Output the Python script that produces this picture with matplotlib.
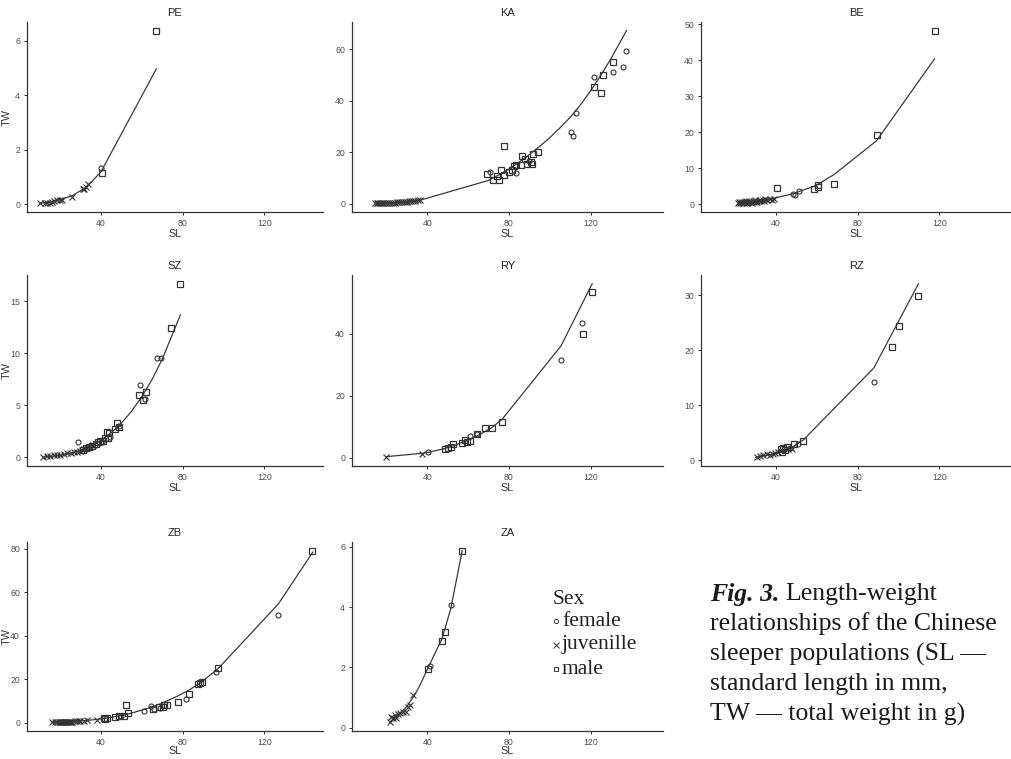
import matplotlib.pyplot as plt
from matplotlib.lines import Line2D

plt.rcParams['font.family'] = ['Liberation Sans', 'DejaVu Sans']

# ---- data (SL in mm, TW in g) ----
pe_f_sl = [40.0]
pe_f_tw = [1.34]
pe_j_sl = [10.0, 12.5, 13.5, 15.2, 16.0, 16.8, 18.4, 19.8, 20.9, 25.8, 31.0, 31.5, 32.5, 33.5]
pe_j_tw = [0.05, 0.06, 0.07, 0.07, 0.09, 0.11, 0.15, 0.17, 0.17, 0.27, 0.55, 0.58, 0.64, 0.76]
pe_m_sl = [40.5, 67.1]
pe_m_tw = [1.17, 6.37]
pe_fit_sl = [10, 15, 20, 25.8, 31.5, 35, 40, 67.1]
pe_fit_tw = [0.04, 0.09, 0.18, 0.32, 0.57, 0.8, 1.2, 4.97]

ka_f_sl = [70.5, 83.4, 90.0, 110.4, 111.5, 113.1, 121.8, 130.8, 136.0, 137.3]
ka_f_tw = [12.1, 11.9, 16.4, 28.0, 26.3, 35.1, 49.3, 51.2, 53.2, 59.2]
ka_j_sl = [14.5, 15.5, 16.0, 17.0, 17.8, 18.5, 19.5, 20.3, 21.0, 22.0, 23.0, 24.0,
           25.0, 26.0, 27.0, 28.0, 29.0, 30.0, 31.0, 32.0, 33.0, 34.0, 35.5, 36.5]
ka_j_tw = [0.08, 0.1, 0.11, 0.13, 0.16, 0.17, 0.21, 0.24, 0.26, 0.3, 0.34, 0.38,
           0.43, 0.48, 0.54, 0.6, 0.67, 0.74, 0.82, 0.9, 0.99, 1.08, 1.25, 1.4]
ka_m_sl = [69.4, 72.0, 74.0, 75.1, 75.9, 77.6, 77.4, 80.0, 81.6, 82.4, 83.3, 85.9,
           86.5, 87.8, 88.7, 90.6, 91.4, 91.6, 94.2, 121.8, 124.9, 126.2, 131.1]
ka_m_tw = [11.6, 9.3, 10.6, 9.3, 12.9, 11.2, 22.2, 12.3, 13.2, 14.5, 15.1, 14.8,
           18.6, 17.3, 15.5, 16.1, 15.2, 19.4, 20.0, 45.2, 43.1, 49.9, 55.1]
ka_fit_sl = [14.5, 20, 25, 30, 36.5, 70, 75, 80, 85, 90, 95, 100, 105, 110, 115, 120, 125, 130, 137.6]
ka_fit_tw = [0.08, 0.22, 0.42, 0.73, 1.31, 9.0, 11.1, 13.4, 16.1, 19.0, 22.2, 25.6,
             29.4, 33.5, 38.3, 43.8, 49.8, 56.3, 67.2]

be_f_sl = [48.6, 49.4, 51.5]
be_f_tw = [2.8, 2.6, 3.5]
be_j_sl = [21.5, 22, 22.5, 23, 23.5, 24, 24.5, 25, 25.5, 26, 26.5, 27, 27.5, 28, 28.5,
           29, 29.5, 30, 30.5, 31, 32, 32.5, 33, 34, 34.5, 35, 36, 37, 38, 39]
be_j_tw = [0.3, 0.5, 0.2, 0.6, 0.4, 0.7, 0.3, 0.5, 0.8, 0.4, 0.6, 0.9, 0.5, 0.7, 0.4,
           0.8, 0.6, 1.0, 0.7, 0.5, 0.9, 1.1, 0.8, 1.2, 0.9, 1.3, 1.1, 1.4, 1.2, 1.5]
be_m_sl = [40.5, 58.5, 60.7, 60.7, 68.5, 89.3, 117.7]
be_m_tw = [4.4, 4.3, 5.4, 4.8, 5.7, 19.3, 48.2]
be_fit_sl = [21.5, 25, 30, 35, 39, 40.5, 48.6, 51.5, 58.5, 60.7, 68.5, 89.3, 117.7]
be_fit_tw = [0.45, 0.6, 0.9, 1.3, 1.6, 1.8, 2.9, 3.5, 4.9, 5.5, 8.2, 17.6, 40.4]

sz_f_sl = [28.6, 33.0, 37.0, 40.5, 44.5, 48.7, 59.3, 61.7, 67.4, 69.6]
sz_f_tw = [1.44, 0.85, 1.2, 1.5, 2.0, 3.0, 7.0, 5.64, 9.55, 9.55]
sz_j_sl = [11.6, 13.6, 15.2, 16.8, 18.4, 20.0, 21.7, 23.3, 25.3, 26.6, 28.0, 29.5,
           30.5, 31.5, 33.0, 34.5, 36.0]
sz_j_tw = [0.0, 0.08, 0.12, 0.18, 0.22, 0.27, 0.32, 0.38, 0.45, 0.5, 0.55, 0.65,
           0.7, 0.78, 0.9, 1.0, 1.15]
sz_m_sl = [31.0, 32.5, 34.0, 35.5, 37.5, 38.5, 39.7, 41.0, 42.0, 42.9, 43.3, 44.0,
           47.0, 47.8, 48.7, 58.4, 60.4, 61.9, 74.4, 78.5]
sz_m_tw = [0.75, 0.9, 1.0, 1.1, 1.3, 1.45, 1.6, 1.55, 1.9, 2.4, 1.86, 2.35,
           2.75, 3.3, 2.9, 5.96, 5.5, 6.3, 12.4, 16.7]
sz_fit_sl = [11.6, 15, 20, 25, 30, 35, 40, 45, 50, 55, 60, 65, 70, 78.9]
sz_fit_tw = [0.03, 0.08, 0.19, 0.38, 0.67, 1.08, 1.64, 2.37, 3.29, 4.44, 5.83, 7.49, 9.44, 13.7]

ry_f_sl = [40.5, 61.1, 64.4, 105.5, 115.6]
ry_f_tw = [1.8, 7.0, 7.7, 31.4, 43.3]
ry_j_sl = [19.7, 37.6]
ry_j_tw = [0.1, 1.3]
ry_m_sl = [48.9, 50.1, 51.4, 52.7, 57.1, 58.7, 59.5, 61.1, 64.4, 68.5, 71.7, 76.7, 116.4, 120.8]
ry_m_tw = [2.7, 3.0, 3.3, 4.3, 4.8, 5.7, 5.2, 5.4, 7.5, 9.5, 9.5, 11.5, 39.8, 53.5]
ry_fit_sl = [19.7, 37.6, 40.5, 48.9, 52.7, 58.7, 61.1, 64.4, 68.5, 71.7, 76.7, 105.5, 120.8]
ry_fit_tw = [0.3, 1.4, 1.7, 3.0, 3.8, 5.3, 6.0, 7.0, 8.5, 9.7, 12.4, 36.0, 56.1]

rz_f_sl = [47.0, 51.0, 88.0]
rz_f_tw = [2.3, 2.9, 14.2]
rz_j_sl = [30.7, 32.5, 34.0, 35.9, 37.2, 38.5, 39.7, 41.0, 46.2, 47.8]
rz_j_tw = [0.6, 0.75, 0.9, 1.1, 1.0, 1.2, 1.4, 1.5, 2.0, 2.1]
rz_m_sl = [42.6, 42.9, 43.7, 44.5, 45.4, 49.1, 53.5, 96.8, 100.1, 109.5]
rz_m_tw = [2.0, 1.6, 2.2, 1.8, 2.4, 3.0, 3.5, 20.6, 24.5, 29.9]
rz_fit_sl = [30.3, 35, 40, 43, 46, 49, 53.5, 88, 96.8, 100.1, 109.8]
rz_fit_tw = [0.55, 0.9, 1.3, 1.7, 2.1, 2.6, 3.7, 16.8, 23.0, 25.3, 32.1]

zb_f_sl = [50.0, 61.0, 64.6, 65.9, 68.9, 81.8, 96.2, 126.9]
zb_f_tw = [3.2, 5.5, 7.5, 6.2, 6.7, 10.8, 23.4, 49.6]
zb_j_sl = [15.9, 17.5, 18.5, 19.5, 20.0, 20.5, 21.0, 21.5, 22.0, 22.5, 23.0, 23.5,
           24.0, 24.5, 25.0, 25.5, 26.0, 27.0, 28.0, 29.0, 29.8, 31.5, 33.0, 38.0]
zb_j_tw = [0.1, 0.1, 0.15, 0.15, 0.2, 0.2, 0.25, 0.3, 0.3, 0.3, 0.35, 0.35,
           0.4, 0.4, 0.45, 0.45, 0.5, 0.55, 0.6, 0.7, 0.75, 0.9, 1.0, 1.4]
zb_m_sl = [41.3, 42.1, 43.0, 47.0, 48.7, 51.1, 52.0, 53.3, 65.4, 68.4, 70.3, 70.8,
           72.5, 77.9, 83.1, 87.7, 88.4, 89.7, 97.5, 143.4]
zb_m_tw = [2.3, 1.7, 2.0, 2.6, 2.9, 3.2, 8.2, 4.4, 6.2, 7.0, 7.3, 8.2,
           8.2, 9.7, 13.4, 17.9, 18.4, 18.9, 25.2, 79.2]
zb_fit_sl = [15.9, 20, 25, 30, 35, 39.7, 45, 50, 55, 64.3, 70, 77.9, 83.1, 88.9, 97.5, 126.9, 143.8]
zb_fit_tw = [0.15, 0.3, 0.5, 0.8, 1.2, 1.7, 2.4, 3.3, 4.4, 7.0, 9.0, 12.4, 15.0, 18.4, 25.0, 54.6, 78.5]

za_f_sl = [41.1, 51.5]
za_f_tw = [2.03, 4.08]
za_j_sl = [21.6, 22.4, 23.3, 24.1, 24.9, 25.7, 26.8, 28.1, 29.4, 30.6, 31.4, 33.0]
za_j_tw = [0.2, 0.36, 0.3, 0.41, 0.33, 0.44, 0.47, 0.5, 0.52, 0.69, 0.74, 1.07]
za_m_sl = [40.2, 47.2, 48.6, 57.1]
za_m_tw = [1.96, 2.89, 3.16, 5.88]
za_fit_sl = [21.6, 25, 30, 33, 36, 40.2, 44, 47.2, 51.5, 57.1]
za_fit_tw = [0.17, 0.36, 0.7, 1.0, 1.35, 1.96, 2.5, 2.95, 3.95, 5.88]

x_ticks = [40, 80, 120]
pe_yticks = [0, 2, 4, 6]
ka_yticks = [0, 20, 40, 60]
be_yticks = [0, 10, 20, 30, 40, 50]
sz_yticks = [0, 5, 10, 15]
ry_yticks = [0, 20, 40]
rz_yticks = [0, 10, 20, 30]
zb_yticks = [0, 20, 40, 60, 80]
za_yticks = [0, 2, 4, 6]

panels = [
    ('PE', pe_f_sl, pe_f_tw, pe_j_sl, pe_j_tw, pe_m_sl, pe_m_tw, pe_fit_sl, pe_fit_tw, pe_yticks),
    ('KA', ka_f_sl, ka_f_tw, ka_j_sl, ka_j_tw, ka_m_sl, ka_m_tw, ka_fit_sl, ka_fit_tw, ka_yticks),
    ('BE', be_f_sl, be_f_tw, be_j_sl, be_j_tw, be_m_sl, be_m_tw, be_fit_sl, be_fit_tw, be_yticks),
    ('SZ', sz_f_sl, sz_f_tw, sz_j_sl, sz_j_tw, sz_m_sl, sz_m_tw, sz_fit_sl, sz_fit_tw, sz_yticks),
    ('RY', ry_f_sl, ry_f_tw, ry_j_sl, ry_j_tw, ry_m_sl, ry_m_tw, ry_fit_sl, ry_fit_tw, ry_yticks),
    ('RZ', rz_f_sl, rz_f_tw, rz_j_sl, rz_j_tw, rz_m_sl, rz_m_tw, rz_fit_sl, rz_fit_tw, rz_yticks),
    ('ZB', zb_f_sl, zb_f_tw, zb_j_sl, zb_j_tw, zb_m_sl, zb_m_tw, zb_fit_sl, zb_fit_tw, zb_yticks),
    ('ZA', za_f_sl, za_f_tw, za_j_sl, za_j_tw, za_m_sl, za_m_tw, za_fit_sl, za_fit_tw, za_yticks),
]

W, H = 1012, 759
fig = plt.figure(figsize=(W / 100, H / 100), dpi=100)

# axes boxes in pixels (left, right) per column and (top, bottom) per row
cols = [(27, 323), (352, 663), (701, 1012)]
col_xlim = [(3.7, 148.8), (3.1, 155.5), (3.5, 155.5)]
rows = [(22, 212), (275, 466), (542, 731)]

ink = '#333333'
for i, (name, fx, fy, jx, jy, mx, my, lx, ly, yt) in enumerate(panels):
    r, c = divmod(i, 3)
    x0, x1 = cols[c]
    y0, y1 = rows[r]
    ax = fig.add_axes([x0 / W, 1 - y1 / H, (x1 - x0) / W, (y1 - y0) / H])
    ax.plot(lx, ly, color='#3a3a3a', lw=0.9, zorder=3)
    ax.plot(fx, fy, 'o', ms=3.6, mfc='none', mec=ink, mew=0.8, zorder=4)
    ax.plot(jx, jy, 'x', ms=4.2, mec=ink, mew=0.8, zorder=4)
    ax.plot(mx, my, 's', ms=4.6, mfc='none', mec=ink, mew=0.9, zorder=4)
    ax.set_xlim(col_xlim[c])
    ax.set_xticks(x_ticks)
    ax.set_yticks(yt)
    ax.margins(y=0.05)
    for s in ['top', 'right']:
        ax.spines[s].set_visible(False)
    for s in ['left', 'bottom']:
        ax.spines[s].set_color(ink)
        ax.spines[s].set_linewidth(0.9)
    ax.tick_params(length=2.5, width=0.7, color=ink, labelsize=6.3,
                   labelcolor='#4d4d4d', pad=2.5)
    ax.set_title(name, fontsize=8, color='#222222', pad=4)
    ax.set_xlabel('SL', fontsize=7.8, color='#333333', labelpad=1 if r < 2 else -0.5)
    if c == 0:
        ax.set_ylabel('TW', fontsize=7.8, color='#333333')
        ax.yaxis.set_label_coords(-0.052, 0.5)

# legend for Sex, drawn inside the ZA panel area
serif = ['Liberation Serif', 'DejaVu Serif']
fig.text(553 / W, 1 - 599 / H, 'Sex', family=serif, fontsize=15.5, va='center', color='#222222')
leg_items = [('o', 'female', 3.0), ('x', 'juvenille', 4.0), ('s', 'male', 3.5)]
for k, (mk, lab, msz) in enumerate(leg_items):
    yy = 1 - (621 + 24 * k) / H
    fig.add_artist(Line2D([556 / W], [yy], marker=mk, ms=msz, mfc='none', mec='#333333',
                          mew=0.7, linestyle='none', transform=fig.transFigure))
    fig.text(562 / W, yy, lab, family=serif, fontsize=15.5, va='center', color='#222222')

# caption
cap_size = 18.5
cap_lines = ['relationships of the Chinese', 'sleeper populations (SL \u2014',
             'standard length in mm,', 'TW \u2014 total weight in g)']
t = fig.text(710 / W, 1 - 594 / H, 'Fig. 3.', family=serif, fontsize=cap_size,
             fontweight='bold', fontstyle='italic', va='center', color='#1a1a1a')
fig.canvas.draw()
bb = t.get_window_extent()
fig.text((bb.x1 + 6) / W, 1 - 594 / H, 'Length-weight', family=serif, fontsize=cap_size,
         va='center', color='#1a1a1a')
for k, line in enumerate(cap_lines):
    fig.text(710 / W, 1 - (624 + 30 * k) / H, line, family=serif, fontsize=cap_size,
             va='center', color='#1a1a1a')

fig.savefig('out.png', dpi=100)
